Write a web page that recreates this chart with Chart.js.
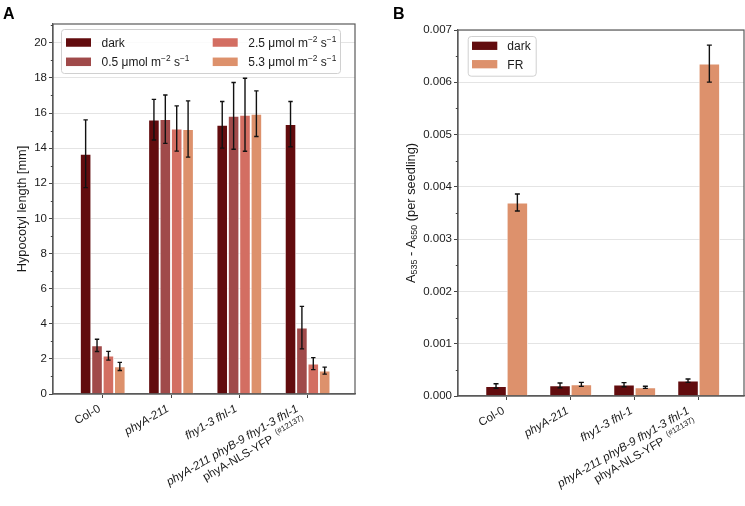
<!DOCTYPE html>
<html><head><meta charset="utf-8">
<script src="https://cdn.jsdelivr.net/npm/chart.js@4.4.1/dist/chart.umd.min.js"></script>
<style>
html,body{margin:0;padding:0;background:#fff;width:745px;height:506px;overflow:hidden;}
#ca{position:absolute;left:0;top:0;}
#cb{position:absolute;left:380px;top:0;}
</style></head><body>
<canvas id="ca" width="380" height="506"></canvas>
<canvas id="cb" width="365" height="506"></canvas>
<script>
// ---------- data ----------
const genotypes = ["Col-0", "phyA-211", "fhy1-3 fhl-1", "phyA-211 phyB-9 fhy1-3 fhl-1\nphyA-NLS-YFP (#12137)"];

// Panel A: hypocotyl length [mm]
const lightLabels = ["dark", "0.5 μmol m^{−2} s^{−1}", "2.5 μmol m^{−2} s^{−1}", "5.3 μmol m^{−2} s^{−1}"];
const lenDark   = [13.68, 15.62, 15.33, 15.37];
const errDark   = [1.93, 1.16, 1.33, 1.29];
const len05     = [2.77, 15.65, 15.84, 3.78];
const err05     = [0.35, 1.38, 1.90, 1.21];
const len25     = [2.18, 15.12, 15.90, 1.73];
const err25     = [0.25, 1.29, 2.08, 0.34];
const len53     = [1.57, 15.09, 15.96, 1.33];
const err53     = [0.23, 1.60, 1.30, 0.20];
const yTicksA   = [0, 2, 4, 6, 8, 10, 12, 14, 16, 18, 20];
const yMinorA   = [1, 3, 5, 7, 9, 11, 13, 15, 17, 19, 21];

// Panel B: A535 - A650 (per seedling)
const condLabels = ["dark", "FR"];
const absDark = [0.000191, 0.000204, 0.000217, 0.000293];
const absDarkErr = [0.000042, 0.000045, 0.000039, 0.000032];
const absFR   = [0.003701, 0.000223, 0.000166, 0.006357];
const absFRErr = [0.000163, 0.000038, 0.000020, 0.000354];
const yTicksB = [0, 0.001, 0.002, 0.003, 0.004, 0.005, 0.006, 0.007];
const yMinorB = [0.0005, 0.0015, 0.0025, 0.0035, 0.0045, 0.0055, 0.0065];

// ---------- style ----------
const FONT = '"Liberation Sans", Arial, Helvetica, sans-serif';
const TXT = '#1a1a1a';
const C_DARK = 'rgb(98,12,14)', C_05 = 'rgb(160,74,74)', C_25 = 'rgb(211,110,98)', C_53 = 'rgb(221,145,108)';

function fontStr(s, fs){ return (s.bold?'bold ':'') + (s.it?'italic ':'') + (fs*(s.sc||1)).toFixed(2) + 'px ' + FONT; }
function parseRich(str, base){
  base = base || {};
  return str.split(/(\^\{[^}]*\}|_\{[^}]*\})/).filter(p=>p.length).map(p=>{
    if(p.startsWith('^{')) return Object.assign({}, base, {t:p.slice(2,-1), sc:0.7, dy:0.4});
    if(p.startsWith('_{')) return Object.assign({}, base, {t:p.slice(2,-1), sc:0.7, dy:-0.22});
    return Object.assign({}, base, {t:p});
  });
}
function richWidth(ctx, segs, fs){ let w=0; for(const s of segs){ ctx.font=fontStr(s,fs); w+=ctx.measureText(s.t).width; } return w; }
function drawRich(ctx, segs, x, y, fs){
  let cx=x;
  for(const s of segs){ ctx.font=fontStr(s,fs); ctx.fillText(s.t, cx, y-(s.dy||0)*fs); cx+=ctx.measureText(s.t).width; }
}
function styleLabel(line){
  const toks=line.split(' ');
  return toks.map((t,i)=>{
    const txt = t + (i<toks.length-1?' ':'');
    if(t.startsWith('(#')) return {t:' '+txt, sc:0.68, dy:0.38};
    if(t==='Col-0' || t==='phyA-NLS-YFP') return {t:txt};
    return {t:txt, it:true};
  });
}

function makeBars(vals){ return vals.map((v,i)=>({x:i, y:v})); }

const decoPlugin = {
  id:'deco',
  afterDatasetsDraw(chart){
    const ctx=chart.ctx, y=chart.scales.y;
    ctx.save();
    ctx.strokeStyle='#111'; ctx.lineWidth=1.4;
    chart.data.datasets.forEach((ds,di)=>{
      const meta=chart.getDatasetMeta(di);
      meta.data.forEach((el,i)=>{
        const v=ds.data[i].y, e=ds.errors[i];
        const yt=y.getPixelForValue(v+e), yb=y.getPixelForValue(v-e);
        const cw=chart.options.capW;
        ctx.beginPath();
        ctx.moveTo(el.x,yt); ctx.lineTo(el.x,yb);
        ctx.moveTo(el.x-cw,yt); ctx.lineTo(el.x+cw,yt);
        ctx.moveTo(el.x-cw,yb); ctx.lineTo(el.x+cw,yb);
        ctx.stroke();
      });
    });
    ctx.restore();
  },
  afterDraw(chart){
    const ctx=chart.ctx, a=chart.chartArea, o=chart.options.deco;
    ctx.save();
    // frame
    ctx.strokeStyle='#5a5a5a'; ctx.lineWidth=1.2;
    ctx.strokeRect(a.left, a.top, a.right-a.left, a.bottom-a.top);
    // minor ticks
    ctx.strokeStyle='#444'; ctx.lineWidth=1;
    o.minor.forEach(v=>{
      const py=Math.round(chart.scales.y.getPixelForValue(v))+0.5;
      if(py<a.top-0.5) return;
      ctx.beginPath(); ctx.moveTo(a.left-2.2,py); ctx.lineTo(a.left,py); ctx.stroke();
    });
    // panel letter
    ctx.fillStyle='#000'; ctx.textBaseline='alphabetic'; ctx.textAlign='left';
    ctx.font='bold 16px '+FONT;
    ctx.fillText(o.letter, o.letterX, 18.5);
    // y label
    ctx.fillStyle=TXT;
    const ys=parseRich(o.ylabel), yfs=12.8;
    const yw=richWidth(ctx,ys,yfs);
    ctx.save(); ctx.translate(o.ylabelX, (a.top+a.bottom)/2); ctx.rotate(-Math.PI/2);
    drawRich(ctx, ys, -yw/2, yfs*0.36, yfs);
    ctx.restore();
    // x labels
    const th=Math.PI/6, c=Math.cos(th), s=Math.sin(th), fs=11.6, lh=fs*1.22;
    const xs=chart.scales.x;
    genotypes.forEach((g,i)=>{
      const lines=g.split('\n').map(styleLabel);
      const ws=lines.map(l=>richWidth(ctx,l,fs));
      const W=Math.max(...ws), H=lines.length*lh;
      const tx=xs.getPixelForValue(i), ty=a.bottom+4+3;
      ctx.save();
      ctx.translate(tx-W*c, ty+W*s+H*c); ctx.rotate(-th);
      lines.forEach((l,k)=>{ drawRich(ctx,l,W-ws[k], -H+k*lh+lh*0.5+fs*0.36, fs); });
      ctx.restore();
    });
    // legend
    const L=o.legend;
    ctx.fillStyle='rgba(255,255,255,0.85)'; ctx.strokeStyle='#d0d0d0'; ctx.lineWidth=1;
    ctx.beginPath(); ctx.roundRect(L.x+0.5, L.y+0.5, L.w, L.h, 3); ctx.fill(); ctx.stroke();
    L.items.forEach(it=>{
      ctx.fillStyle=it.color;
      ctx.fillRect(it.sx, it.cy-L.sh/2, L.sw, L.sh);
      ctx.fillStyle=TXT;
      drawRich(ctx, parseRich(it.label), it.tx, it.cy+12*0.36, 12);
    });
    ctx.restore();
  }
};

function baseOptions(cfg){
  return {
    responsive:false, animation:false,
    layout:{padding:{top:cfg.top, right:cfg.right, left:0, bottom:0}},
    plugins:{legend:{display:false}, tooltip:{enabled:false}},
    capW:cfg.capW,
    deco:cfg.deco,
    datasets:{bar:{categoryPercentage:0.667, barPercentage:1.0, borderColor:'#fff', borderWidth:0.9, borderSkipped:'start'}},
    scales:{
      x:{type:'linear', min:cfg.xmin, max:cfg.xmax, offset:false, bounds:'ticks',
         afterBuildTicks:s=>{ s.ticks=genotypes.map((g,i)=>({value:i})); },
         afterFit:s=>{ s.height=cfg.xh; },
         ticks:{display:false},
         grid:{offset:false, drawOnChartArea:false, color:'#444', tickColor:'#444', tickLength:4},
         border:{color:'#5a5a5a', width:1.2}},
      y:{type:'linear', min:0, max:cfg.ymax,
         afterBuildTicks:s=>{ s.ticks=cfg.yticks.map(v=>({value:v})); },
         afterFit:s=>{ s.width=cfg.yw; },
         ticks:{font:{family:FONT, size:11.5}, color:TXT, padding:2, callback:cfg.fmt},
         grid:{color:'#e4e4e4', lineWidth:1, tickColor:'#444', tickLength:4},
         border:{color:'#5a5a5a', width:1.2}}
    }
  };
}

// Panel A
new Chart(document.getElementById('ca'), {
  type:'bar',
  data:{datasets:[
    {label:lightLabels[0], data:makeBars(lenDark), errors:errDark, backgroundColor:C_DARK},
    {label:lightLabels[1], data:makeBars(len05), errors:err05, backgroundColor:C_05},
    {label:lightLabels[2], data:makeBars(len25), errors:err25, backgroundColor:C_25},
    {label:lightLabels[3], data:makeBars(len53), errors:err53, backgroundColor:C_53}
  ]},
  options:baseOptions({top:24, right:25, xh:112, yw:53, xmin:-0.728, xmax:3.694, ymax:21.07,
    yticks:yTicksA, fmt:v=>String(v), capW:2.2,
    deco:{letter:'A', letterX:3, minor:yMinorA, ylabel:'Hypocotyl length [mm]', ylabelX:21,
      legend:{x:61, y:29, w:279, h:44, sw:25, sh:8.5, items:[
        {label:lightLabels[0], color:C_DARK, sx:66, tx:101.5, cy:42.5},
        {label:lightLabels[1], color:C_05, sx:66, tx:101.5, cy:61.8},
        {label:lightLabels[2], color:C_25, sx:212.7, tx:248.3, cy:42.5},
        {label:lightLabels[3], color:C_53, sx:212.7, tx:248.3, cy:61.8}
      ]}}}),
  plugins:[decoPlugin]
});

// Panel B
new Chart(document.getElementById('cb'), {
  type:'bar',
  data:{datasets:[
    {label:condLabels[0], data:makeBars(absDark), errors:absDarkErr, backgroundColor:C_DARK},
    {label:condLabels[1], data:makeBars(absFR), errors:absFRErr, backgroundColor:C_53}
  ]},
  options:baseOptions({top:30, right:1, xh:110, yw:78, xmin:-0.761, xmax:3.708, ymax:0.007,
    yticks:yTicksB, fmt:v=>v.toFixed(3), capW:2.5,
    deco:{letter:'B', letterX:13, minor:yMinorB, ylabel:'A_{535} - A_{650} (per seedling)', ylabelX:30,
      legend:{x:87.7, y:36, w:68, h:39.7, sw:25.3, sh:8.3, items:[
        {label:condLabels[0], color:C_DARK, sx:92, tx:127.3, cy:45.8},
        {label:condLabels[1], color:C_53, sx:92, tx:127.3, cy:64.2}
      ]}}}),
  plugins:[decoPlugin]
});
</script>
</body></html>
